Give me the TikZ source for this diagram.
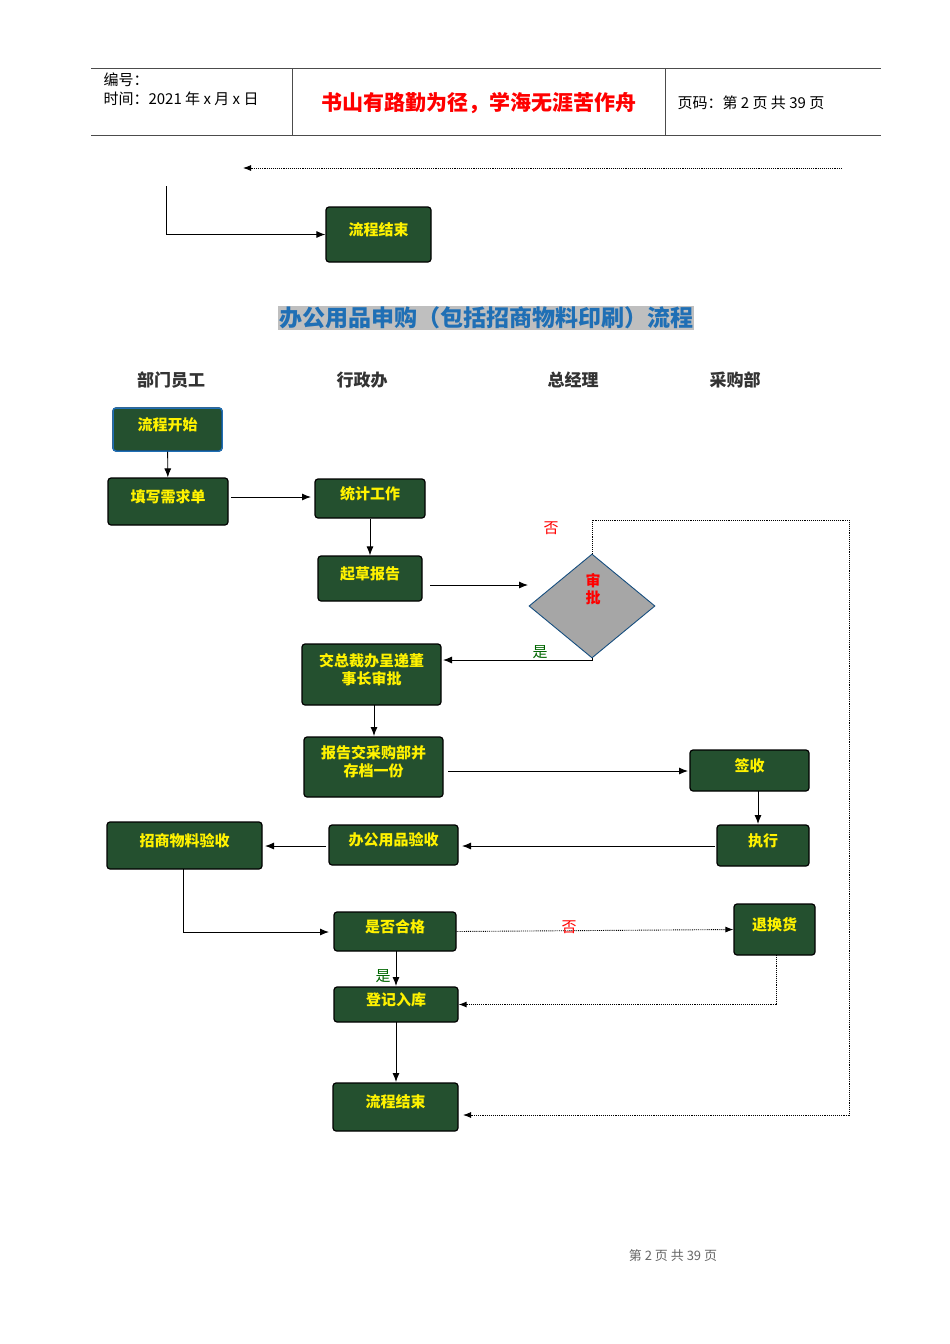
\documentclass[tikz,border=0pt]{standalone}
\usepackage{fontspec}
\setmainfont{Noto Sans CJK SC}
\usetikzlibrary{shapes.geometric,arrows.meta}
\definecolor{gbox}{HTML}{24502F}
\definecolor{ttl}{HTML}{1F6FB5}
\tikzset{
 gb/.style={draw=black,line width=1.2pt,rounded corners=3pt,fill=gbox,text=yellow,font=\bfseries\fontsize{15}{18}\selectfont,align=center,inner sep=0pt},
 ar/.style={-{Latex[length=9pt,width=7pt]},line width=0.9pt},
 dar/.style={-{Latex[length=8pt,width=6pt]},line width=0.9pt,densely dotted},
 lane/.style={font=\bfseries\fontsize{17}{19}\selectfont,text=black!80}
}
\newcommand{\bx}[6]{\node[gb,minimum width=#4-#3,minimum height=#6-#5] (#1) at ({(#3+#4)/2},{(#5+#6)/2}) {};
\node[text=yellow,font=\bfseries\fontsize{15}{18}\selectfont,align=center] (#1t) at ({(#3+#4)/2},{(#5+#6)/2-5}) {#2};}
\begin{document}
\begin{tikzpicture}[x=1pt,y=-1pt]
\useasboundingbox (0,0) rectangle (950,1344);
% header
\draw[line width=0.8pt,black!70] (91,68) -- (881,68) (91,135) -- (881,135) (292,68) -- (292,135) (665,68) -- (665,135);
\node[anchor=west,font=\fontsize{15}{17}\selectfont] (h1) at (100,80) {编号：};
\node[anchor=west,font=\fontsize{15}{17}\selectfont] (h2) at (100,99) {时间：2021 年 x 月 x 日};
\node[text=red,font=\bfseries\fontsize{21}{23}\selectfont] (h3) at (479,103) {书山有路勤为径，学海无涯苦作舟};
\node[anchor=west,font=\fontsize{15}{17}\selectfont] (h4) at (674,103) {页码：第 2 页 共 39 页};
% top fragment
\coordinate (t1) at (842,168); \coordinate (t2) at (243,168);
\draw[dar] (t1) -- (t2);
\bx{e0}{流程结束}{326}{431}{207}{262}
\coordinate (t3) at (166,186);
\draw[ar] (t3) |- (e0.west);
% title
\node[fill=black!25,text=ttl,font=\bfseries\fontsize{23}{25}\selectfont,inner sep=1pt] (title) at (486,318) {办公用品申购（包括招商物料印刷）流程};
\node[lane] (l1) at (171,380) {部门员工};
\node[lane] (l2) at (362,380) {行政办};
\node[lane] (l3) at (573,380) {总经理};
\node[lane] (l4) at (735,380) {采购部};
% boxes
\bx{s}{流程开始}{113}{222}{408}{451}
\path (s) node[draw=ttl,line width=1.5pt,rounded corners=3pt,minimum width=109,minimum height=43] (sb) {};
\bx{a}{填写需求单}{108}{228}{478}{525}
\bx{b}{统计工作}{315}{425}{479}{518}
\bx{c}{起草报告}{318}{422}{556}{601}
\node[diamond,draw=ttl!70!black,line width=0.9pt,fill=black!35,minimum width=126,minimum height=104,inner sep=0pt,aspect=1.2] (d) at (592,606) {};
\node[text=red,font=\bfseries\fontsize{15}{17}\selectfont,align=center] (dt) at (593,589) {审\\批};
\bx{f}{交总裁办呈递董\\事长审批}{302}{441}{644}{705}
\bx{g}{报告交采购部并\\存档一份}{304}{443}{737}{797}
\bx{h}{签收}{690}{809}{750}{791}
\bx{i}{执行}{717}{809}{825}{866}
\bx{j}{办公用品验收}{329}{458}{825}{865}
\bx{k}{招商物料验收}{107}{262}{822}{869}
\bx{m}{是否合格}{334}{456}{912}{951}
\bx{n}{退换货}{734}{815}{904}{955}
\bx{o}{登记入库}{334}{458}{987}{1022}
\bx{p}{流程结束}{333}{458}{1083}{1131}
% edges
\draw[ar] (s) -- (a);
\draw[ar] (231,497) -- (311,497);
\draw[ar] (b) -- (c);
\draw[ar] (430,585) -- (528,585);
\coordinate (dj) at (592,660);
\coordinate (fj) at (443,660);
\draw[ar] (d.south) -- (dj) -- (fj);
\node[text=green!40!black,font=\fontsize{15}{17}\selectfont] (y1) at (540,652) {是};
\draw[dar] (d.north) |- (849,520) |- (463,1115);
\node[text=red,font=\fontsize{15}{17}\selectfont] (n1) at (551,528) {否};
\draw[ar] (374,705) -- (374,736);
\draw[ar] (448,771) -- (688,771);
\draw[ar] (758,791) -- (758,824);
\draw[ar] (715,846) -- (462,846);
\draw[ar] (326,846) -- (265,846);
\draw[ar] (183,869) |- (329,932);
\draw[dar] (m.east) -- (n.west);
\node[text=red,font=\fontsize{15}{17}\selectfont] (n2) at (569,927) {否};
\draw[ar] (396,951) -- (396,986);
\node[text=green!40!black,font=\fontsize{15}{17}\selectfont] (y2) at (383,976) {是};
\draw[dar] (776,955) |- (o.east);
\draw[ar] (396,1022) -- (396,1082);
% footer
\node[text=black!60,font=\fontsize{13}{15}\selectfont] (ft) at (673,1256) {第 2 页 共 39 页};
\end{tikzpicture}
\end{document}
